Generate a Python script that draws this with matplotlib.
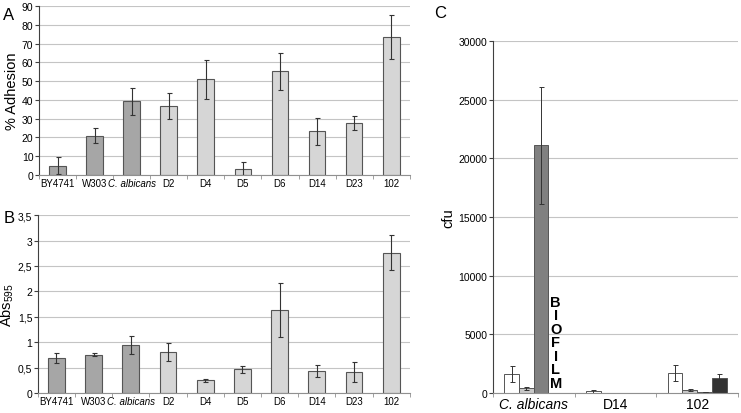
import numpy as np
import matplotlib
matplotlib.use("Agg")
import matplotlib.pyplot as plt

plt.rcParams["font.family"] = ["Liberation Sans", "DejaVu Sans"]
plt.rcParams["mathtext.default"] = "regular"

# Panel A / B strains
strains = ["BY4741", "W303", "C. albicans", "D2", "D4", "D5", "D6", "D14", "D23", "102"]
reference_count = 3  # first three strains are the darker reference bars

adhesion = [5.0, 20.8, 39.2, 36.8, 51.0, 3.4, 55.3, 23.3, 27.7, 73.5]
adhesion_err = [4.5, 4.0, 7.0, 6.8, 10.3, 3.6, 9.8, 7.3, 3.8, 11.8]

absorbance = [0.69, 0.755, 0.945, 0.81, 0.255, 0.47, 1.64, 0.43, 0.42, 2.76]
absorbance_err = [0.09, 0.03, 0.18, 0.18, 0.03, 0.065, 0.53, 0.12, 0.20, 0.34]

# Panel C
cfu_groups = ["C. albicans", "D14", "102"]
cfu_series = [
    [1650, 150, 1700],
    [400, 20, 250],
    [21100, 10, 80],
    [0, 10, 1250],
]
cfu_err = [
    [700, 100, 700],
    [150, 0, 80],
    [5000, 0, 0],
    [0, 0, 400],
]
cfu_colors = ["#ffffff", "#c8c8c8", "#808080", "#333333"]

DARK = "#a6a6a6"
LIGHT = "#d6d6d6"
EDGE = "#555555"
GRID = "#c4c4c4"


def style_axis(ax):
    ax.spines["top"].set_visible(False)
    ax.spines["right"].set_visible(False)
    ax.spines["left"].set_color("#404040")
    ax.spines["bottom"].set_color("#909090")
    ax.yaxis.grid(True, color=GRID, linewidth=0.8)
    ax.set_axisbelow(True)
    ax.tick_params(axis="y", length=3, width=0.8, color="#404040", labelsize=7.5, pad=1)
    ax.tick_params(axis="x", length=0, labelsize=7, pad=2)


def strain_panel(ax, values, errors):
    x = np.arange(len(strains))
    colors = [DARK if i < reference_count else LIGHT for i in range(len(strains))]
    ax.bar(x, values, width=0.45, color=colors, edgecolor=EDGE, linewidth=0.8)
    ax.errorbar(x, values, yerr=errors, fmt="none", ecolor="#333333",
                elinewidth=0.8, capsize=1.8, capthick=0.8)
    ax.set_xlim(-0.5, len(strains) - 0.5)
    ax.set_xticks(x)
    ax.set_xticklabels(strains)
    for label in ax.get_xticklabels():
        if label.get_text() == "C. albicans":
            label.set_style("italic")
    ax.set_xticks(np.arange(len(strains) + 1) - 0.5, minor=True)
    ax.tick_params(axis="x", which="minor", length=3, color="#909090")
    style_axis(ax)


fig = plt.figure(figsize=(7.41, 4.14), dpi=100)

ax_a = fig.add_axes([0.0526, 0.575, 0.5004, 0.408])
strain_panel(ax_a, adhesion, adhesion_err)
ax_a.set_ylim(0, 90)
ax_a.set_yticks(np.arange(0, 91, 10))
ax_a.set_ylabel("% Adhesion", fontsize=10.5, labelpad=2)

ax_b = fig.add_axes([0.051, 0.048, 0.502, 0.43])
strain_panel(ax_b, absorbance, absorbance_err)
ax_b.set_ylim(0, 3.5)
b_ticks = np.arange(0, 3.51, 0.5)
ax_b.set_yticks(b_ticks)
ax_b.set_yticklabels([f"{t:g}".replace(".", ",") for t in b_ticks])
ax_b.set_ylabel("Abs$_{595}$", fontsize=10.5, labelpad=1)

ax_c = fig.add_axes([0.665, 0.048, 0.331, 0.851])
gx = np.arange(len(cfu_groups))
bar_w = 0.18
for i, (vals, errs, col) in enumerate(zip(cfu_series, cfu_err, cfu_colors)):
    offset = (i - 1.5) * bar_w
    ax_c.bar(gx + offset, vals, width=bar_w, color=col, edgecolor=EDGE, linewidth=0.7)
    ax_c.errorbar(gx + offset, vals, yerr=errs, fmt="none", ecolor="#333333",
                  elinewidth=0.7, capsize=1.8, capthick=0.7)
ax_c.set_xlim(-0.5, len(cfu_groups) - 0.5)
ax_c.set_ylim(0, 30000)
ax_c.set_yticks(np.arange(0, 30001, 5000))
ax_c.set_xticks(gx)
ax_c.set_xticklabels(cfu_groups)
style_axis(ax_c)
ax_c.tick_params(axis="x", labelsize=10, pad=3)
ax_c.get_xticklabels()[0].set_style("italic")
ax_c.set_xticks(np.arange(len(cfu_groups) + 1) - 0.5, minor=True)
ax_c.tick_params(axis="x", which="minor", length=3, color="#909090")
ax_c.set_ylabel("cfu", fontsize=10.5, labelpad=2)

# BIOFILM label stacked in the place of the missing bar
ax_c.text(1.5 * bar_w, 300, "\n".join("BIOFILM"), ha="center", va="bottom",
          fontsize=10.5, fontweight="bold", linespacing=0.95)

fig.text(9 / 741, 1 - 15 / 414, "A", fontsize=12, ha="center", va="center")
fig.text(9 / 741, 1 - 219 / 414, "B", fontsize=12, ha="center", va="center")
fig.text(440 / 741, 1 - 14 / 414, "C", fontsize=12, ha="center", va="center")

fig.savefig("out.png", dpi=100)
